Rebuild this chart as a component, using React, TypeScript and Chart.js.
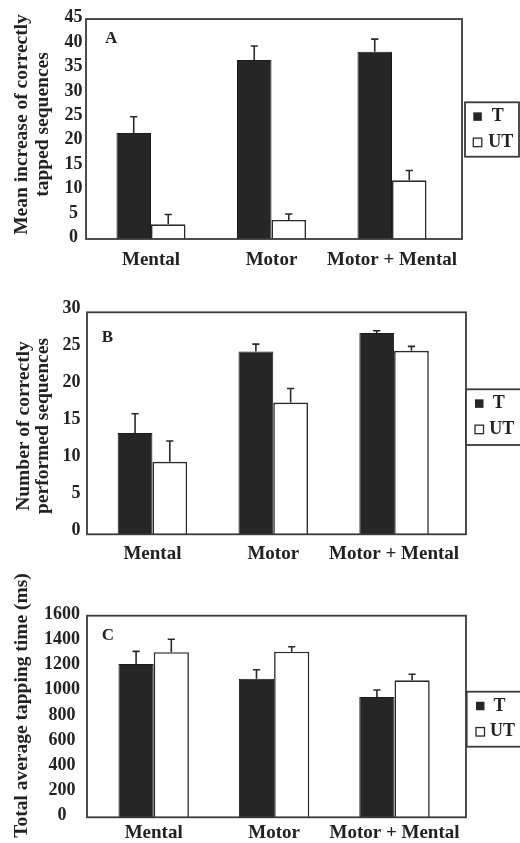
import React, { useEffect, useRef } from 'react';
import { Chart, registerables } from 'chart.js';

Chart.register(...registerables);

// ---------- data ----------
const categories = ['Mental', 'Motor', 'Motor + Mental'];
const seriesNames = ['T', 'UT'];

// Panel A: Mean increase of correctly tapped sequences
const aT = [21.7, 36.6, 38.3];
const aTErr = [3.3, 2.9, 2.6];
const aUT = [3.0, 3.9, 12.0];
const aUTErr = [2.0, 1.2, 2.0];
const aAxis = [0, 45, 5]; // min, max, step
const aTitle = ['Mean increase of correctly', 'tapped sequences'];

// Panel B: Number of correctly performed sequences
const bT = [13.7, 24.7, 27.2];
const bTErr = [2.6, 1.0, 0.3];
const bUT = [9.8, 17.8, 24.8];
const bUTErr = [2.8, 1.9, 0.6];
const bAxis = [0, 30, 5];
const bTitle = ['Number of correctly', 'performed sequences'];

// Panel C: Total average tapping time (ms)
const cT = [1217, 1100, 955];
const cTErr = [100, 71, 55];
const cUT = [1310, 1314, 1087];
const cUTErr = [103, 40, 48];
const cAxis = [0, 1600, 200];
const cTitle = ['Total average tapping time (ms)'];

const panelLetters = ['A', 'B', 'C'];

// ---------- style / layout ----------
const FONT = "'Liberation Serif', 'Times New Roman', Times, serif";
const INK = '#222222';
const DARK_FILL = '#262626';

type Geom = {
  top: number; height: number;
  area: { l: number; r: number; t: number; b: number };
  frame: { l: number; r: number };
  tickPad: number; tickAlign: 'near' | 'center'; labelOffset: number; xPad: number;
  catPct: number;
  title: { xs: number[]; y: number };
  letter: { x: number; y: number };
  legend: { l: number; t: number; h: number; w: number; mx: number };
};

const geoms: Geom[] = [
  {
    top: 0, height: 280,
    area: { l: 90.75, r: 452.25, t: 18.3, b: 239 },
    frame: { l: 86, r: 462 },
    tickPad: 8.25, tickAlign: 'center', labelOffset: -1.5, xPad: 10, catPct: 0.573,
    title: { xs: [22, 43], y: 124.5 },
    letter: { x: 105, y: 38.5 },
    legend: { l: 465, t: 102.3, h: 54.4, w: 54, mx: 8.3 },
  },
  {
    top: 280, height: 280,
    area: { l: 92, r: 454.5, t: 32.3, b: 254.3 },
    frame: { l: 87, r: 466 },
    tickPad: 11.5, tickAlign: 'near', labelOffset: -4, xPad: 8.8, catPct: 0.575,
    title: { xs: [23.5, 43], y: 146 },
    letter: { x: 101.7, y: 57.5 },
    legend: { l: 466, t: 109.3, h: 55.7, w: 60, mx: 9 },
  },
  {
    top: 560, height: 283,
    area: { l: 93.5, r: 454.7, t: 55.7, b: 257.3 },
    frame: { l: 87, r: 466 },
    tickPad: 13.5, tickAlign: 'center', labelOffset: -1.5, xPad: 4.6, catPct: 0.585,
    title: { xs: [22], y: 145.5 },
    letter: { x: 101.7, y: 76 },
    legend: { l: 466.7, t: 131.7, h: 55, w: 60, mx: 9.3 },
  },
];

const panelPlugin = {
  id: 'panelDeco',
  afterDatasetsDraw(chart: any) {
    const { ctx } = chart;
    const y = chart.scales.y;
    chart.data.datasets.forEach((ds: any, di: number) => {
      const meta = chart.getDatasetMeta(di);
      meta.data.forEach((bar: any, i: number) => {
        const v = ds.data[i];
        const e = ds.errors[i];
        const top = y.getPixelForValue(v + e);
        ctx.save();
        ctx.strokeStyle = '#2a2a2a';
        ctx.lineWidth = 1.6;
        ctx.beginPath();
        ctx.moveTo(bar.x, bar.y);
        ctx.lineTo(bar.x, top);
        ctx.moveTo(bar.x - 3.6, top);
        ctx.lineTo(bar.x + 3.6, top);
        ctx.stroke();
        ctx.restore();
      });
    });
  },
  afterDraw(chart: any, _args: any, opts: any) {
    const { ctx, chartArea } = chart;
    const g: Geom = opts.geom;
    ctx.save();
    // frame
    ctx.strokeStyle = '#3a3a3a';
    ctx.lineWidth = 1.8;
    ctx.strokeRect(g.frame.l, chartArea.top, g.frame.r - g.frame.l, chartArea.bottom - chartArea.top);

    // panel letter
    ctx.fillStyle = INK;
    ctx.font = `bold 17px ${FONT}`;
    ctx.textAlign = 'left';
    ctx.textBaseline = 'middle';
    ctx.fillText(opts.letter, g.letter.x, g.letter.y);

    // y title
    ctx.font = `bold 19.5px ${FONT}`;
    ctx.textAlign = 'center';
    (opts.title as string[]).forEach((line, i) => {
      ctx.save();
      ctx.translate(g.title.xs[i], g.title.y);
      ctx.rotate(-Math.PI / 2);
      ctx.fillText(line, 0, 0);
      ctx.restore();
    });

    // legend
    const L = g.legend;
    ctx.fillStyle = '#ffffff';
    ctx.fillRect(L.l, L.t, L.w, L.h);
    ctx.strokeStyle = '#3a3a3a';
    ctx.lineWidth = 1.8;
    ctx.strokeRect(L.l, L.t, L.w, L.h);
    ctx.font = `bold 18px ${FONT}`;
    ctx.textAlign = 'left';
    ctx.textBaseline = 'middle';
    chart.data.datasets.forEach((ds: any, i: number) => {
      const cy = L.t + 14.3 + i * 25.8;
      const s = 8.5;
      const mx = L.l + L.mx;
      if (i === 0) {
        ctx.fillStyle = DARK_FILL;
        ctx.fillRect(mx, cy - s / 2, s, s);
      } else {
        ctx.fillStyle = '#ffffff';
        ctx.fillRect(mx, cy - s / 2, s, s);
        ctx.strokeStyle = '#2a2a2a';
        ctx.lineWidth = 1.3;
        ctx.strokeRect(mx, cy - s / 2, s, s);
      }
      ctx.fillStyle = INK;
      const tx = L.l + (i === 0 ? 26.8 : 23.3);
      ctx.fillText(ds.label, tx, cy);
    });
    ctx.restore();
  },
};

type PanelProps = {
  idx: number;
  t: number[]; tErr: number[]; ut: number[]; utErr: number[];
  axis: number[]; title: string[];
};

function Panel({ idx, t, tErr, ut, utErr, axis, title }: PanelProps) {
  const ref = useRef<HTMLCanvasElement | null>(null);
  const g = geoms[idx];
  useEffect(() => {
    if (!ref.current) return;
    const chart = new Chart(ref.current, {
      type: 'bar',
      data: {
        labels: categories,
        datasets: [
          {
            label: seriesNames[0], data: t, errors: tErr,
            backgroundColor: DARK_FILL, borderColor: '#1a1a1a', borderWidth: 1,
            categoryPercentage: g.catPct, barPercentage: 1,
          } as any,
          {
            label: seriesNames[1], data: ut, errors: utErr,
            backgroundColor: '#ffffff', borderColor: '#2b2b2b', borderWidth: 1.6,
            categoryPercentage: g.catPct, barPercentage: 1,
          } as any,
        ],
      },
      options: {
        responsive: false,
        animation: false,
        layout: {
          padding: { left: 0, right: 520 - g.area.r, top: g.area.t, bottom: 0 },
        },
        plugins: {
          legend: { display: false },
          tooltip: { enabled: false },
          panelDeco: { geom: g, letter: panelLetters[idx], title },
        } as any,
        scales: {
          x: {
            grid: { display: false, drawTicks: false },
            border: { display: false },
            ticks: {
              color: INK, padding: g.xPad, maxRotation: 0, autoSkip: false,
              font: { family: FONT, size: 19, weight: 'bold' },
            },
            afterFit: (s: any) => { s.height = g.height - g.area.b; },
          },
          y: {
            min: axis[0], max: axis[1],
            grid: { display: false, drawTicks: false },
            border: { display: false },
            ticks: {
              stepSize: axis[2], color: INK, padding: g.tickPad, autoSkip: false,
              crossAlign: g.tickAlign, labelOffset: g.labelOffset,
              callback: (v: any) => String(v),
              font: { family: FONT, size: 18, weight: 'bold' },
            },
            afterFit: (s: any) => { s.width = g.area.l; },
          },
        },
      } as any,
      plugins: [panelPlugin as any],
    });
    return () => chart.destroy();
  }, []);
  return (
    <canvas
      ref={ref}
      width={520}
      height={g.height}
      style={{ position: 'absolute', left: 0, top: g.top, width: 520, height: g.height }}
    />
  );
}

export default function App() {
  return (
    <div style={{ position: 'absolute', left: 0, top: 0, width: 520, height: 843, background: '#fff' }}>
      <Panel idx={0} t={aT} tErr={aTErr} ut={aUT} utErr={aUTErr} axis={aAxis} title={aTitle} />
      <Panel idx={1} t={bT} tErr={bTErr} ut={bUT} utErr={bUTErr} axis={bAxis} title={bTitle} />
      <Panel idx={2} t={cT} tErr={cTErr} ut={cUT} utErr={cUTErr} axis={cAxis} title={cTitle} />
    </div>
  );
}
